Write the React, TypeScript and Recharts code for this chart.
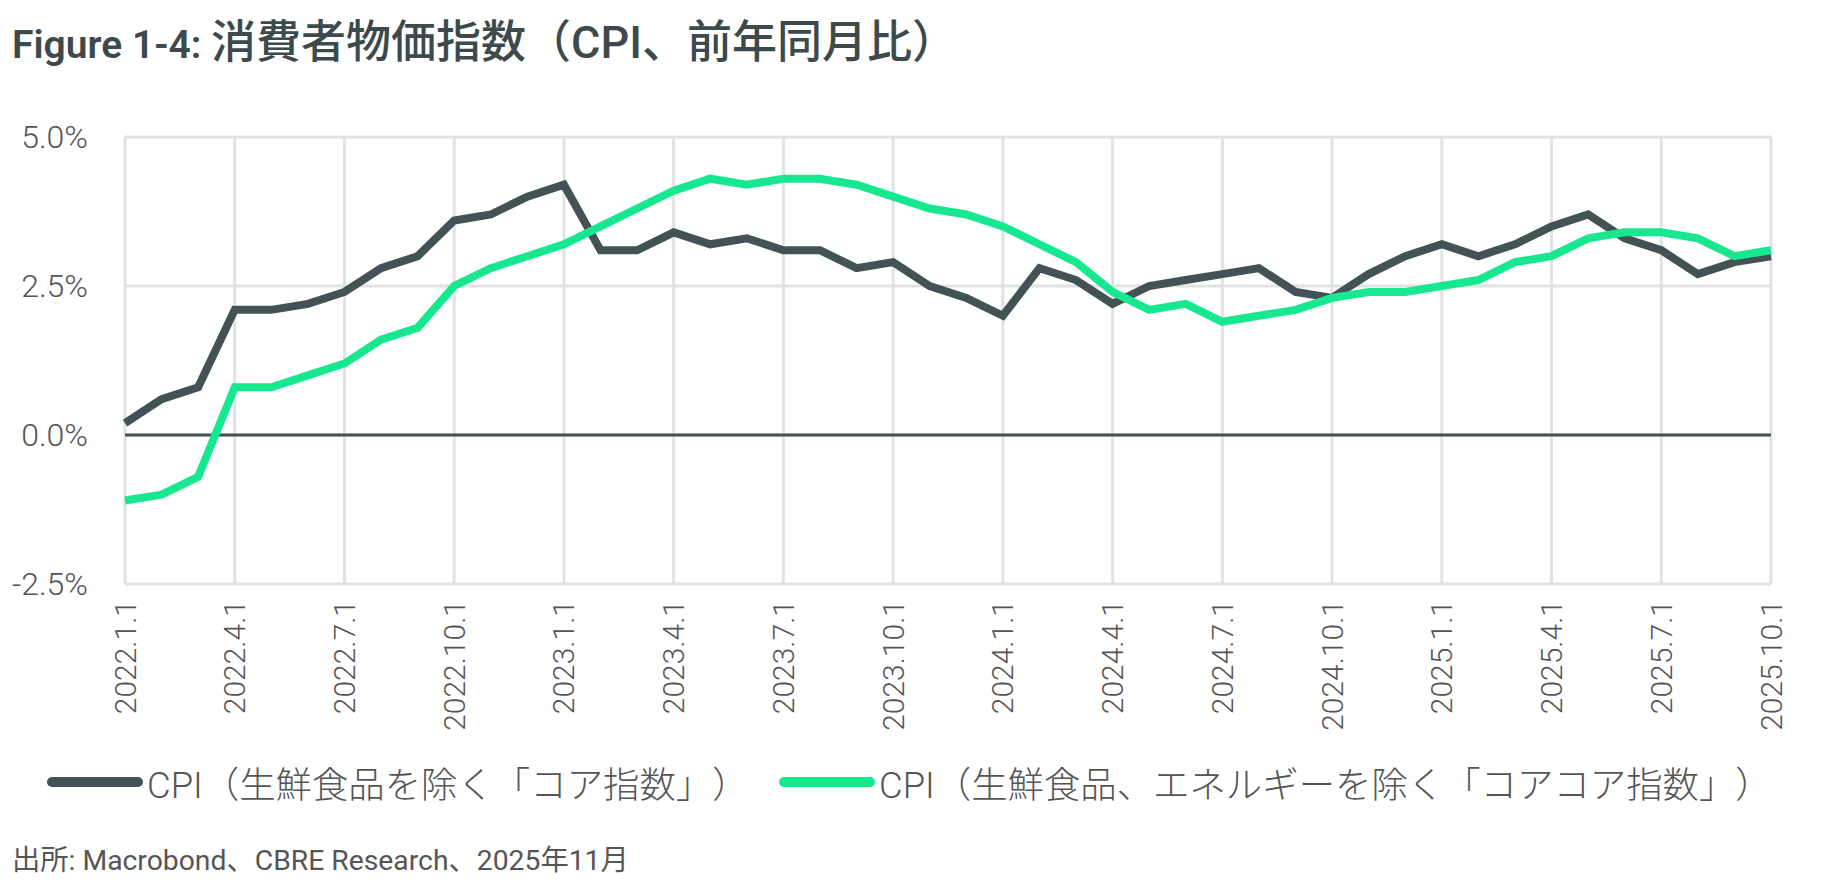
import { LineChart, Line, XAxis, YAxis, CartesianGrid, ReferenceLine } from "recharts";

const dates = [
  "2022.1.1", "2022.2.1", "2022.3.1", "2022.4.1", "2022.5.1", "2022.6.1",
  "2022.7.1", "2022.8.1", "2022.9.1", "2022.10.1", "2022.11.1", "2022.12.1",
  "2023.1.1", "2023.2.1", "2023.3.1", "2023.4.1", "2023.5.1", "2023.6.1",
  "2023.7.1", "2023.8.1", "2023.9.1", "2023.10.1", "2023.11.1", "2023.12.1",
  "2024.1.1", "2024.2.1", "2024.3.1", "2024.4.1", "2024.5.1", "2024.6.1",
  "2024.7.1", "2024.8.1", "2024.9.1", "2024.10.1", "2024.11.1", "2024.12.1",
  "2025.1.1", "2025.2.1", "2025.3.1", "2025.4.1", "2025.5.1", "2025.6.1",
  "2025.7.1", "2025.8.1", "2025.9.1", "2025.10.1",
];

// CPI excl. fresh food (core)
const coreCpi = [
  0.2, 0.6, 0.8, 2.1, 2.1, 2.2, 2.4, 2.8, 3.0, 3.6, 3.7, 4.0,
  4.2, 3.1, 3.1, 3.4, 3.2, 3.3, 3.1, 3.1, 2.8, 2.9, 2.5, 2.3,
  2.0, 2.8, 2.6, 2.2, 2.5, 2.6, 2.7, 2.8, 2.4, 2.3, 2.7, 3.0,
  3.2, 3.0, 3.2, 3.5, 3.7, 3.3, 3.1, 2.7, 2.9, 3.0,
];

// CPI excl. fresh food and energy (core-core)
const coreCoreCpi = [
  -1.1, -1.0, -0.7, 0.8, 0.8, 1.0, 1.2, 1.6, 1.8, 2.5, 2.8, 3.0,
  3.2, 3.5, 3.8, 4.1, 4.3, 4.2, 4.3, 4.3, 4.2, 4.0, 3.8, 3.7,
  3.5, 3.2, 2.9, 2.4, 2.1, 2.2, 1.9, 2.0, 2.1, 2.3, 2.4, 2.4,
  2.5, 2.6, 2.9, 3.0, 3.3, 3.4, 3.4, 3.3, 3.0, 3.1,
];

const xTicks = [
  "2022.1.1", "2022.4.1", "2022.7.1", "2022.10.1", "2023.1.1", "2023.4.1",
  "2023.7.1", "2023.10.1", "2024.1.1", "2024.4.1", "2024.7.1", "2024.10.1",
  "2025.1.1", "2025.4.1", "2025.7.1", "2025.10.1",
];
const yTicks = [-2.5, 0, 2.5, 5];

const seriesNames = [
  "CPI（生鮮食品を除く「コア指数」）",
  "CPI（生鮮食品、エネルギーを除く「コアコア指数」）",
];

const DARK = "#435254";
const GREEN = "#17E88F";
const TEXT = "#555555";
const GRID = "#dfe4e3";

const data = dates.map((d, i) => ({ date: d, core: coreCpi[i], coreCore: coreCoreCpi[i] }));

const DateTick = (props: any) => {
  const { x, y, payload } = props;
  return (
    <text
      x={x}
      y={y}
      dy="0.35em"
      transform={`rotate(-90, ${x}, ${y})`}
      textAnchor="end"
      fill={TEXT}
      fontSize={30}
      fontWeight={300}
    >
      {payload.value}
    </text>
  );
};

export default function App() {
  return (
    <div
      style={{
        position: "relative",
        width: 1820,
        height: 872,
        fontFamily: "Roboto, 'Noto Sans CJK JP', sans-serif",
        color: TEXT,
        // keep full-width punctuation at full width, as in the source
        textSpacingTrim: "space-all",
      } as any}
    >
      <div
        style={{
          position: "absolute",
          left: 4,
          top: 13,
          fontSize: 45,
          lineHeight: "44px",
          color: "#3d4a4c",
          fontWeight: 500,
          whiteSpace: "nowrap",
        }}
      >
        <span style={{ fontWeight: 600, fontSize: 39 }}>Figure 1-4: </span>消費者物価指数（CPI、前年同月比）
      </div>

      <div style={{ position: "absolute", left: 0, top: 0 }}>
        <LineChart
          width={1820}
          height={760}
          data={data}
          margin={{ top: 129, right: 57, left: 0, bottom: 0 }}
        >
          <CartesianGrid stroke={GRID} strokeWidth={3} />
          <XAxis
            dataKey="date"
            ticks={xTicks}
            interval={0}
            height={184}
            axisLine={false}
            tickLine={false}
            tickSize={0}
            tickMargin={16}
            tick={<DateTick />}
          />
          <YAxis
            domain={[-2.5, 5]}
            ticks={yTicks}
            width={117}
            axisLine={false}
            tickLine={false}
            tickSize={0}
            tickMargin={37}
            tickFormatter={(v: number) => `${v.toFixed(1)}%`}
            tick={{ fill: TEXT, fontSize: 32, fontWeight: 300 }}
          />
          <ReferenceLine y={0} stroke={DARK} strokeWidth={3} />
          <Line
            type="linear"
            dataKey="core"
            stroke={DARK}
            strokeWidth={8}
            dot={false}
            activeDot={false}
            isAnimationActive={false}
          />
          <Line
            type="linear"
            dataKey="coreCore"
            stroke={GREEN}
            strokeWidth={8}
            dot={false}
            activeDot={false}
            isAnimationActive={false}
          />
        </LineChart>
      </div>

      {[DARK, GREEN].map((c, i) => (
        <div
          key={`legend-${i}`}
          style={{
            position: "absolute",
            left: i === 0 ? 39 : 771,
            top: 774 - 20,
            height: 40,
            display: "flex",
            alignItems: "center",
            whiteSpace: "nowrap",
          }}
        >
          <div style={{ width: 96, height: 10, borderRadius: 5, background: c, marginRight: 4 }} />
          <span style={{ fontSize: 36.4, fontWeight: 300, color: TEXT }}>{seriesNames[i]}</span>
        </div>
      ))}

      <div
        style={{
          position: "absolute",
          left: 4,
          top: 853 - 16,
          fontSize: 28.3,
          lineHeight: "32px",
          color: TEXT,
          whiteSpace: "nowrap",
        }}
      >
        出所: Macrobond、CBRE Research、2025年11月
      </div>
    </div>
  );
}
